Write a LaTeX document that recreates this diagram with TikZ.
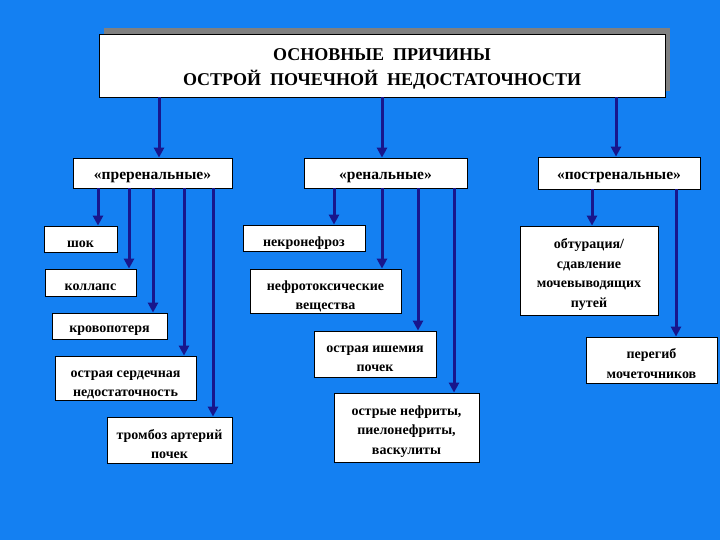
\documentclass[tikz,border=0pt]{standalone}
\usepackage{fontspec}
\setmainfont{Liberation Serif}
\usetikzlibrary{arrows.meta}
\definecolor{bgblue}{RGB}{20,128,242}
\definecolor{navy}{RGB}{24,22,140}
\definecolor{shadowgray}{RGB}{128,128,128}
\tikzset{
  frame/.style={draw=black, line width=0.8pt, fill=white, inner sep=0pt},
  boxtext/.style={inner sep=0pt, align=center, font=\fontsize{14}{19.5}\selectfont\bfseries},
  cattext/.style={inner sep=0pt, align=center, font=\fontsize{15.5}{19}\selectfont\bfseries},
  arr/.style={draw=navy, line width=3pt, -{Triangle[length=10pt,width=10pt]}},
}
\newcommand{\bx}[8]{% name, text style, x1, y1, x2, y2, text shift, text
  \node[frame, minimum width={(#5-#3)*1pt}, minimum height={(#6-#4)*1pt}] (#1) at ({(#3+#5)/2},{(#4+#6)/2}) {};
  \node[#2] (#1-t) at ([yshift=-#7pt]#1.center) {#8};}
\begin{document}
\begin{tikzpicture}[x=1pt,y=-1pt]
\fill[bgblue] (0,0) rectangle (720,540);
\useasboundingbox (0,0) rectangle (720,540);
% title
\fill[shadowgray] (104,28) rectangle (670,91);
\bx{title}{boxtext, font=\fontsize{18}{25}\selectfont\bfseries}{99}{34}{665}{97}{3}{ОСНОВНЫЕ\ \ ПРИЧИНЫ\\ОСТРОЙ\ \ ПОЧЕЧНОЙ\ \ НЕДОСТАТОЧНОСТИ}
% categories
\bx{pre}{cattext}{73}{158}{232}{188}{4}{«преренальные»}
\bx{ren}{cattext}{304}{158}{467}{188}{4}{«ренальные»}
\bx{post}{cattext}{538}{157}{700}{189}{4}{«постренальные»}
% prerenal
\bx{shok}{boxtext}{44}{226}{117}{252}{5}{шок}
\bx{koll}{boxtext}{45}{269}{136}{296}{5}{коллапс}
\bx{krov}{boxtext}{52}{313}{167}{339}{5}{кровопотеря}
\bx{serd}{boxtext}{55}{356}{196}{400}{7}{острая сердечная\\недостаточность}
\bx{tromb}{boxtext}{107}{417}{232}{463}{4}{тромбоз артерий\\почек}
% renal
\bx{nekr}{boxtext}{243}{225}{365}{251}{5}{некронефроз}
\bx{nefr}{boxtext}{250}{269}{401}{313}{5.5}{нефротоксические\\вещества}
\bx{ishem}{boxtext}{314}{331}{436}{377}{5}{острая ишемия\\почек}
\bx{nefrit}{boxtext}{334}{393}{479}{462}{4}{острые нефриты,\\пиелонефриты,\\васкулиты}
% postrenal
\bx{obtur}{boxtext}{520}{226}{658}{315}{4}{обтурация/\\сдавление\\мочевыводящих\\путей}
\bx{pereg}{boxtext}{586}{337}{717}{383}{3.5}{перегиб\\мочеточников}
% arrows from title
\draw[arr] (title.south -| 159,0) -- (pre.north -| 159,0);
\draw[arr] (title.south -| 382,0) -- (ren.north -| 382,0);
\draw[arr] (title.south -| 616,0) -- (post.north -| 616,0);
% prerenal arrows
\draw[arr] (pre.south -| 98,0) -- (shok.north -| 98,0);
\draw[arr] (pre.south -| 129,0) -- (koll.north -| 129,0);
\draw[arr] (pre.south -| 153,0) -- (krov.north -| 153,0);
\draw[arr] (pre.south -| 184,0) -- (serd.north -| 184,0);
\draw[arr] (pre.south -| 213,0) -- (tromb.north -| 213,0);
% renal arrows
\draw[arr] (ren.south -| 334,0) -- (nekr.north -| 334,0);
\draw[arr] (ren.south -| 382,0) -- (nefr.north -| 382,0);
\draw[arr] (ren.south -| 418,0) -- (ishem.north -| 418,0);
\draw[arr] (ren.south -| 454,0) -- (nefrit.north -| 454,0);
% postrenal arrows
\draw[arr] (post.south -| 592,0) -- (obtur.north -| 592,0);
\draw[arr] (post.south -| 676,0) -- (pereg.north -| 676,0);
\end{tikzpicture}
\end{document}
